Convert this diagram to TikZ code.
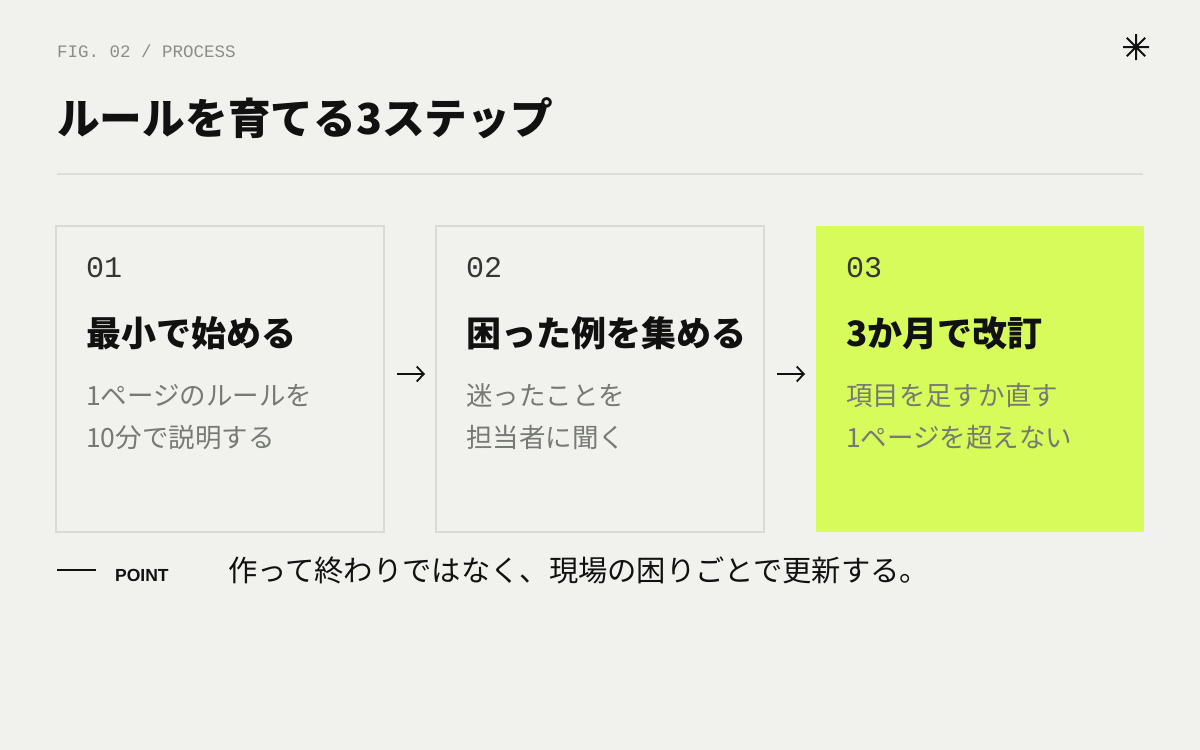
\documentclass[tikz,border=0pt]{standalone}
\usepackage{fontspec}
\setmainfont{Noto Sans CJK JP}
\newfontfamily\monofont{Liberation Mono}
\newfontfamily\latinsans{Liberation Sans}
\usetikzlibrary{arrows.meta}
\definecolor{paper}{HTML}{F1F1ED}
\definecolor{lime}{HTML}{D6FB5A}
\definecolor{frame}{HTML}{DAD9D5}
\definecolor{muted}{HTML}{777A73}
\definecolor{ink}{HTML}{111111}
\definecolor{rulegray}{HTML}{DCDCD8}
\definecolor{labelgray}{HTML}{8C8C88}

\begin{document}
\begin{tikzpicture}[x=1pt, y=-1pt,
  stepbox/.style={draw=frame, line width=1.5pt, minimum width=328pt, minimum height=306pt, outer sep=0pt, inner sep=0pt},
  stepnum/.style={anchor=base west, inner sep=0pt, font=\monofont\fontsize{30}{30}\selectfont, text=ink!85},
  steptitle/.style={anchor=base west, inner sep=0pt, font=\bfseries\fontsize{35}{35}\selectfont, text=ink},
  stepnote/.style={anchor=base west, inner sep=0pt, font=\fontsize{26.5}{26.5}\selectfont, text=muted},
  flowarrow/.style={-{Straight Barb[length=7pt,width=15pt]}, line width=1.8pt, ink, shorten <=13pt, shorten >=11pt}]
% Canvas
\fill[paper] (0,0) rectangle (1200,750);

% Header
\node[anchor=base west, inner sep=0pt, font=\monofont\fontsize{17.5}{17.5}\selectfont, text=labelgray] (fig) at (57,57) {FIG. 02 / PROCESS};
\node[anchor=base west, inner sep=0pt, font=\bfseries\fontsize{42.7}{42.7}\selectfont, text=ink] (title) at (57,134) {ルールを育てる3ステップ};
\draw[rulegray, line width=1.5pt] (57,174) -- (1143,174);
\draw[ink, line width=2pt] (1123,47) -- (1149,47) (1136,34) -- (1136,60)
  (1126.8,37.8) -- (1145.2,56.2) (1126.8,56.2) -- (1145.2,37.8);

% Steps
\node[stepbox] (s1) at (220,379) {};
\node[stepbox] (s2) at (600,379) {};
\node[stepbox, fill=lime, draw=none] (s3) at (980,379) {};

\node[stepnum] (n1) at (86,277) {01};
\node[steptitle] (t1) at (86,346) {最小で始める};
\node[stepnote] (d1a) at (86,405) {1ページのルールを};
\node[stepnote] (d1b) at (86,447) {10分で説明する};

\node[stepnum] (n2) at (466,277) {02};
\node[steptitle] (t2) at (466,346) {困った例を集める};
\node[stepnote] (d2a) at (466,405) {迷ったことを};
\node[stepnote] (d2b) at (466,447) {担当者に聞く};

\node[stepnum] (n3) at (846,277) {03};
\node[steptitle] (t3) at (846,346) {3か月で改訂};
\node[stepnote] (d3a) at (846,405) {項目を足すか直す};
\node[stepnote] (d3b) at (846,447) {1ページを超えない};

% Flow
\draw[flowarrow] ([yshift=5pt]s1.east) -- ([yshift=5pt]s2.west);
\draw[flowarrow] ([yshift=5pt]s2.east) -- ([yshift=5pt]s3.west);

% Point
\coordinate (p0) at (57,570);
\coordinate (p1) at (96,570);
\draw[ink, line width=1.5pt] (p0) -- (p1);
\node[anchor=base west, inner sep=0pt, font=\latinsans\bfseries\fontsize{17.5}{17.5}\selectfont, text=ink] (point) at (115,581) {POINT};
\node[anchor=base west, inner sep=0pt, font=\fontsize{29.3}{29.3}\selectfont, text=ink] (msg) at (228,581) {作って終わりではなく、現場の困りごとで更新する。};
\end{tikzpicture}
\end{document}
